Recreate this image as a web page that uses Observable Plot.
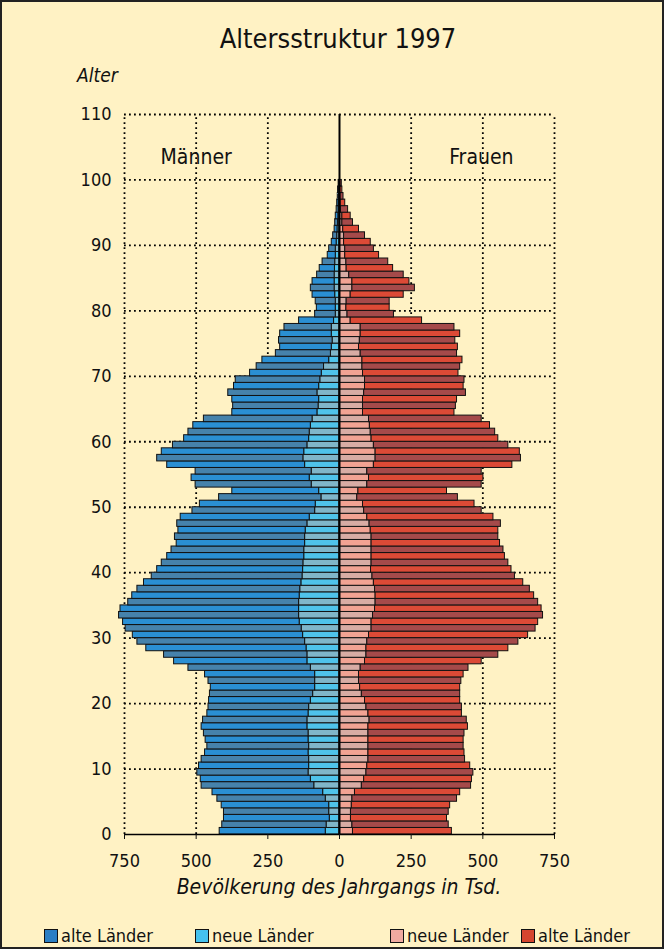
<!DOCTYPE html>
<html><head><meta charset="utf-8">
<script src="https://cdn.jsdelivr.net/npm/d3@7"></script>
<script src="https://cdn.jsdelivr.net/npm/@observablehq/plot@0.6"></script>
<style>
html,body{margin:0;padding:0;background:#fff;}
#frame{position:relative;box-sizing:border-box;width:664px;height:949px;border:2px solid #222;background:#fff2c4;font-family:"DejaVu Sans Condensed","DejaVu Sans",sans-serif;overflow:hidden;color:#111;}
#title{position:absolute;left:0;width:672px;top:21px;text-align:center;font-size:27px;}
#alter{position:absolute;left:75px;top:62px;font-size:19px;font-style:italic;}
#chart{position:absolute;left:0;top:98px;}
#xlabel{position:absolute;left:0;width:674px;top:873px;text-align:center;font-size:21px;font-style:italic;}
.lg{position:absolute;top:923px;font-size:18px;display:flex;align-items:center;white-space:nowrap;}
.sw{display:inline-block;width:12px;height:12px;border:1px solid #111;margin-right:3px;}
</style></head>
<body>
<div id="frame">
  <div id="title">Altersstruktur 1997</div>
  <div id="alter">Alter</div>
  <div id="chart"></div>
  <div id="xlabel">Bevölkerung des Jahrgangs in Tsd.</div>
  <div id="legend"></div>
</div>
<script>
// Age categories (bottom to top)
const ages = [0,1,2,3,4,5,6,7,8,9,10,11,12,13,14,15,16,17,18,19,20,21,22,23,24,25,26,27,28,29,30,31,32,33,34,35,36,37,38,39,40,41,42,43,44,45,46,47,48,49,50,51,52,53,54,55,56,57,58,59,60,61,62,63,64,65,66,67,68,69,70,71,72,73,74,75,76,77,78,79,80,81,82,83,84,85,86,87,88,89,90,91,92,93,94,95,96,97,98,99];

// Männer, neue Länder (Tsd.)
const menNeue = [48,45,34,36,36,48,57,88,100,108,106,106,108,106,108,108,112,112,108,106,100,92,85,85,85,100,112,112,115,120,127,132,139,141,141,141,139,137,133,129,127,126,123,123,120,120,118,112,104,85,83,63,71,97,104,97,120,126,123,112,106,104,100,94,77,73,71,77,71,67,62,54,36,30,27,24,27,27,19,13,13,13,15,17,17,17,16,15,13,13,10,8,7,5,4,3,3,2,2,1];
// Männer, alte Länder (Tsd.)
const menAlte = [370,364,369,367,375,378,386,393,384,388,384,375,361,355,359,365,369,364,353,351,355,360,364,372,384,427,465,500,559,585,594,614,616,628,623,596,584,568,549,526,509,494,478,463,448,454,444,454,450,428,404,357,303,405,412,405,481,510,497,469,436,423,410,379,297,298,303,311,297,295,250,235,233,192,180,187,180,165,122,72,66,70,79,83,77,61,53,44,28,23,17,14,10,10,9,7,5,4,3,2];
// Frauen, neue Länder (Tsd.)
const womenNeue = [47,45,40,40,43,45,54,78,86,94,97,101,101,101,101,101,101,105,101,94,89,78,72,68,68,74,89,94,94,97,103,112,112,117,124,126,126,124,120,115,110,112,112,112,112,112,109,105,97,86,82,62,66,97,103,97,120,126,126,120,112,109,106,103,82,82,82,86,89,89,82,80,80,74,68,71,74,74,39,28,24,25,39,45,45,34,25,24,20,20,16,16,13,10,10,5,4,3,2,2];
// Frauen, alte Länder (Tsd.)
const womenAlte = [345,336,335,341,343,365,367,381,376,373,359,337,335,332,332,335,347,339,326,333,332,343,349,357,365,376,407,460,495,527,555,572,581,593,581,567,553,540,521,497,490,477,465,460,448,442,445,458,440,410,389,351,309,399,399,399,483,507,503,469,442,434,419,393,319,324,328,355,344,347,333,341,349,336,345,333,347,327,249,162,151,150,185,218,199,190,162,146,118,100,93,73,55,37,29,25,16,11,8,6];

const xTicks = [-750,-500,-250,0,250,500,750];
const yTicks = [0,10,20,30,40,50,60,70,80,90,100,110];
const legendLabels = ["alte Länder","neue Länder","neue Länder","alte Länder"];
const sideLabels = ["Männer","Frauen"];

const col = {
  maA:"#2a8fd3", maB:"#4682ab",
  mnA:"#4fc3ea", mnB:"#80b6c9",
  wnA:"#f2a393", wnB:"#d8aca4",
  waA:"#dc4a36", waB:"#a54a4a"
};
const legendColors = ["#2a7ec4","#45c2ee","#f0aaa0","#d5452f"];

const rows = [];
ages.forEach((a,i)=>{
  const odd = i % 2 === 1;
  rows.push({age:a, x1:0, x2:-menNeue[i], fill: odd?col.mnB:col.mnA});
  rows.push({age:a, x1:-menNeue[i], x2:-(menNeue[i]+menAlte[i]), fill: odd?col.maB:col.maA});
  rows.push({age:a, x1:0, x2:womenNeue[i], fill: odd?col.wnB:col.wnA});
  rows.push({age:a, x1:womenNeue[i], x2:womenNeue[i]+womenAlte[i], fill: odd?col.waB:col.waA});
});

const dot = {stroke:"#000", strokeWidth:1.8, strokeDasharray:"1.8,3.2"};

const chart = Plot.plot({
  width: 660,
  height: 780,
  marginLeft: 122,
  marginRight: 108,
  marginTop: 14,
  marginBottom: 46,
  style: {background:"transparent", fontFamily:"'DejaVu Sans Condensed','DejaVu Sans',sans-serif", fontSize:"18px", color:"#111"},
  x: {domain:[-750,750]},
  y: {domain:[0,110]},
  marks: [
    Plot.ruleX(xTicks.filter(d=>d!==0), {y1:0, y2:110, ...dot}),
    Plot.ruleY(yTicks.filter(d=>d!==0), {x1:-750, x2:750, ...dot}),
    Plot.rect(rows, {x1:"x1", x2:"x2", y1:d=>d.age, y2:d=>d.age+1, fill:"fill", stroke:"#111", strokeWidth:1}),
    Plot.ruleX([0], {y1:0, y2:110, stroke:"#000", strokeWidth:2}),
    Plot.ruleY([0], {x1:-750, x2:750, stroke:"#000", strokeWidth:1.5}),
    Plot.axisX({ticks:xTicks, tickFormat:d=>Math.abs(d), tickSize:5, tickPadding:15, label:null, fontSize:18}),
    Plot.axisY({ticks:yTicks, tickSize:0, tickPadding:13, label:null, fontSize:18}),
    Plot.text([sideLabels[0]], {x:-500, y:103.4, text:d=>d, fontSize:21}),
    Plot.text([sideLabels[1]], {x:495, y:103.4, text:d=>d, fontSize:21})
  ]
});
document.getElementById("chart").appendChild(chart);

const lgPos = [42, 193, 388, 519];
const frame = document.getElementById("frame");
legendLabels.forEach((t,i)=>{
  const d = document.createElement("div");
  d.className = "lg";
  d.style.left = lgPos[i] + "px";
  d.innerHTML = `<span class="sw" style="background:${legendColors[i]}"></span>${t}`;
  frame.appendChild(d);
});
</script>
</body></html>
